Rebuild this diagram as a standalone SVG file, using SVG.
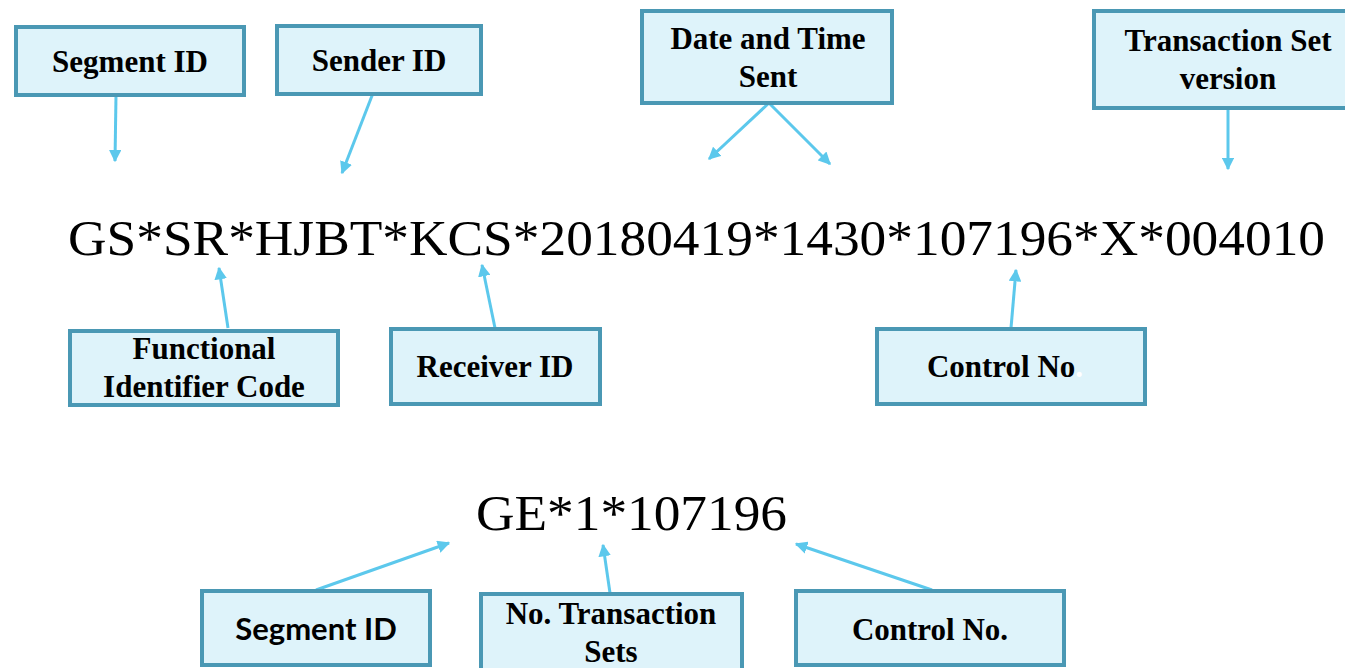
<svg xmlns="http://www.w3.org/2000/svg" width="1345" height="668" viewBox="0 0 1345 668">
<defs>
<marker id="ah" viewBox="0 0 10 10" refX="9" refY="5" markerWidth="4.2" markerHeight="4.2" orient="auto" markerUnits="strokeWidth">
<path d="M0,0 L10,5 L0,10 z" fill="#5cc8ec"/>
</marker>
<style>
.box{fill:#def3fa;stroke:#4a98b4;stroke-width:4}
.lbl{font-family:"Liberation Serif",serif;font-weight:bold;font-size:31px;fill:#000;text-anchor:middle}
.lbls{font-family:Lato,"Liberation Sans",sans-serif;font-weight:bold;font-size:31px;fill:#000;text-anchor:middle}
.code{font-family:"Liberation Serif",serif;font-size:51px;fill:#000}
.conn{stroke:#5cc8ec;stroke-width:3;fill:none;marker-end:url(#ah)}
</style>
</defs>
<rect width="1345" height="668" fill="#fff"/>
<text class="code" x="68" y="255" textLength="1257" lengthAdjust="spacingAndGlyphs">GS*SR*HJBT*KCS*20180419*1430*107196*X*004010</text>
<text class="code" x="476" y="530" textLength="311" lengthAdjust="spacingAndGlyphs">GE*1*107196</text>
<g id="connectors">
<line class="conn" x1="116" y1="95" x2="115" y2="161"/>
<line class="conn" x1="375" y1="88" x2="342" y2="173"/>
<line class="conn" x1="769" y1="103" x2="709" y2="159"/>
<line class="conn" x1="769" y1="103" x2="830" y2="164"/>
<line class="conn" x1="1228" y1="108" x2="1228" y2="169"/>
<line class="conn" x1="228" y1="328" x2="219" y2="268"/>
<line class="conn" x1="495" y1="328" x2="482" y2="265"/>
<line class="conn" x1="1011" y1="328" x2="1016" y2="270"/>
<line class="conn" x1="316" y1="590" x2="449" y2="543"/>
<line class="conn" x1="610" y1="593" x2="603" y2="545"/>
<line class="conn" x1="932" y1="590" x2="796" y2="544"/>
</g>
<g id="n-segment-id">
<rect class="box" x="16" y="27" width="228" height="68"/>
<text class="lbl" x="130" y="72">Segment ID</text>
</g>
<g id="n-sender-id">
<rect class="box" x="277" y="26" width="204" height="68"/>
<text class="lbl" x="379" y="71">Sender ID</text>
</g>
<g id="n-date-time">
<rect class="box" x="642" y="11" width="250" height="92"/>
<text class="lbl" x="768" y="49">Date and Time</text>
<text class="lbl" x="768" y="87">Sent</text>
</g>
<g id="n-ts-version">
<rect class="box" x="1094" y="11" width="256" height="97"/>
<text class="lbl" x="1228" y="51">Transaction Set</text>
<text class="lbl" x="1228" y="89">version</text>
</g>
<g id="n-func-id">
<rect class="box" x="70" y="331" width="268" height="74"/>
<text class="lbl" x="204" y="359">Functional</text>
<text class="lbl" x="204" y="397">Identifier Code</text>
</g>
<g id="n-receiver-id">
<rect class="box" x="391" y="329" width="209" height="75"/>
<text class="lbl" x="495" y="377">Receiver ID</text>
</g>
<g id="n-control-top">
<rect class="box" x="877" y="329" width="268" height="75"/>
<text class="lbl" x="1005" y="377">Control No<tspan fill="#fff">.</tspan></text>
</g>
<g id="n-ge-segment-id">
<rect class="box" x="202" y="591" width="228" height="74"/>
<text class="lbls" x="316" y="640">Segment ID</text>
</g>
<g id="n-ge-num-ts">
<rect class="box" x="481" y="594" width="261" height="80"/>
<text class="lbl" x="611" y="624">No. Transaction</text>
<text class="lbl" x="611" y="662">Sets</text>
</g>
<g id="n-ge-control">
<rect class="box" x="796" y="591" width="268" height="74"/>
<text class="lbl" x="930" y="640">Control No.</text>
</g>
</svg>
